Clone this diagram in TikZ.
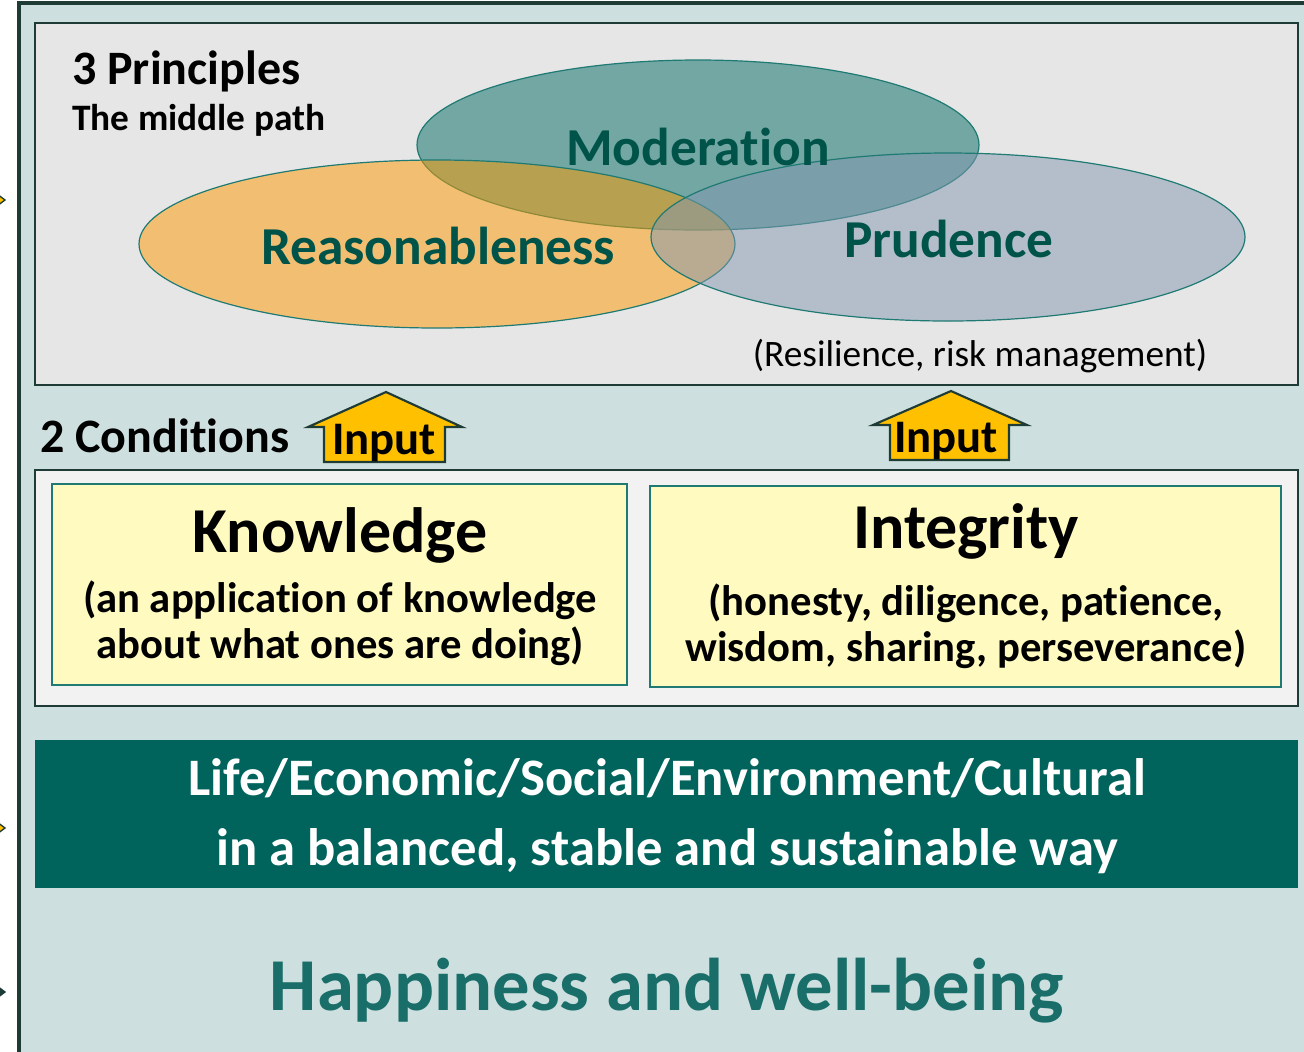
\documentclass[tikz,border=0pt]{standalone}
\usepackage{fontspec}
\setmainfont{Carlito}[Ligatures={NoCommon,NoRequired,NoContextual}]
\definecolor{dk}{HTML}{1E3B36}
\definecolor{bgteal}{HTML}{CDE0DF}
\definecolor{gray1}{HTML}{E6E6E6}
\definecolor{gray2}{HTML}{F2F2F2}
\definecolor{ylw}{HTML}{FFFBC0}
\definecolor{tealline}{HTML}{1F7A73}
\definecolor{bar}{HTML}{00645C}
\definecolor{modc}{RGB}{0,106,100}
\definecolor{reac}{RGB}{254,154,0}
\definecolor{pruc}{RGB}{130,152,176}
\definecolor{ptext}{HTML}{005349}
\definecolor{happy}{HTML}{1A6E69}
\definecolor{inputc}{HTML}{FFC000}
\tikzset{
  boxline/.style={line width=2.2pt, draw=dk},
  ybox/.style={line width=1.5pt, draw=tealline, fill=ylw},
  ell/.style={line width=0.9pt, draw=tealline, fill opacity=0.5},
  ptxt/.style={text=ptext, font=\fontsize{40}{44}\selectfont\bfseries},
  inarrow/.style={fill=inputc, draw=dk, line width=1.6pt, line join=miter},
  tip/.style={draw=dk, line width=1pt},
}
\begin{document}
\begin{tikzpicture}[x=0.75pt,y=-0.75pt]
\useasboundingbox (0,0) rectangle (1304,1051);
\clip (0,0) rectangle (1304,1051);
\fill[white] (0,0) rectangle (1304,1051);
% outer frame
\draw[line width=2.4pt, draw=dk, fill=bgteal] (19,3) rectangle (1340,1090);
% left arrow tips
\draw[tip, fill=inputc] (-3,194) -- (5,200) -- (-3,206) -- cycle;
\draw[tip, fill=inputc] (-3,822) -- (5,828) -- (-3,834) -- cycle;
\draw[tip, fill=dk] (-3,986) -- (5,992) -- (-3,998) -- cycle;
% principles box
\draw[boxline, fill=gray1] (35,23) rectangle (1298,385);
% ellipses
\draw[ell, fill=modc] (698,145) ellipse [x radius=281, y radius=85];
\draw[ell, fill=reac] (437,244) ellipse [x radius=298, y radius=84];
\draw[ell, fill=pruc] (948,237) ellipse [x radius=297, y radius=84];
\node[anchor=base west, font=\fontsize{36}{40}\selectfont\bfseries, inner sep=0] (p3) at (72,84) {3 Principles};
\node[anchor=base west, font=\fontsize{28}{32}\selectfont\bfseries, inner sep=0] (mp) at (72,130) {The middle path};
\node[ptxt] (mod) at (698,147) {Moderation};
\node[ptxt] (rea) at (438,246) {Reasonableness};
\node[ptxt] (pru) at (949,239) {Prudence};
\node[font=\fontsize{28}{32}\selectfont] (res) at (980,356) {(Resilience, risk management)};
% conditions label and input arrows
\node[anchor=base west, font=\fontsize{36}{40}\selectfont\bfseries, inner sep=0] (c2) at (40,452) {2 Conditions};
\draw[inarrow] (386,392) -- (462,427) -- (445,427) -- (445,462) -- (324,462) -- (324,427) -- (308,427) -- cycle;
\node[font=\fontsize{35}{40}\selectfont\bfseries, anchor=base, inner sep=0] (in1) at (384,454) {Input};
\draw[inarrow] (951,391) -- (1027,425) -- (1009,425) -- (1009,460) -- (890,460) -- (890,425) -- (873,425) -- cycle;
\node[font=\fontsize{35}{40}\selectfont\bfseries, anchor=base, inner sep=0] (in2) at (946,452) {Input};
% conditions box
\draw[boxline, fill=gray2] (35,470) rectangle (1298,706);
\draw[ybox] (52,484) rectangle (627,685);
\draw[ybox] (650,486) rectangle (1281,687);
\node[font=\fontsize{48}{52}\selectfont\bfseries] (kn) at (340,535) {Knowledge};
\node[font=\fontsize{32}{34.5}\selectfont\bfseries, align=center] (knt) at (340,623) {(an application of knowledge\\about what ones are doing)};
\node[font=\fontsize{48}{52}\selectfont\bfseries] (ig) at (966,531) {Integrity};
\node[font=\fontsize{32}{34.5}\selectfont\bfseries, align=center] (igt) at (966,626) {(honesty, diligence, patience,\\wisdom, sharing, perseverance)};
% bar
\fill[bar] (35,740) rectangle (1298,888);
\node[text=white, font=\fontsize{39.5}{52}\selectfont\bfseries, align=center] (life) at (667,816) {Life/Economic/Social/Environment/Cultural\\in a balanced, stable and sustainable way};
% happiness
\node[text=happy, font=\fontsize{56}{60}\selectfont\bfseries] (hap) at (667,991) {Happiness and well-being};
\end{tikzpicture}
\end{document}
